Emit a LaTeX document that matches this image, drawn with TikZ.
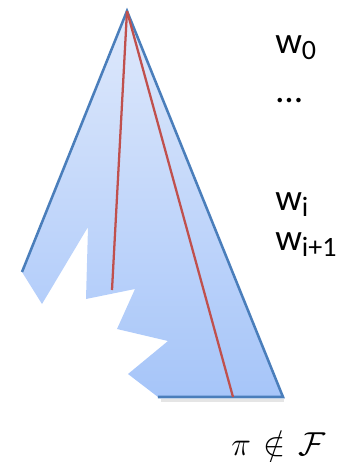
\documentclass[tikz,border=0pt]{standalone}
\usepackage{amsmath,amssymb}
\usepackage{fontspec}
\setmainfont{Carlito}
\definecolor{edgeblue}{HTML}{4A7EBB}
\definecolor{pathred}{HTML}{C0504D}
\definecolor{filltop}{HTML}{DFE9FB}
\definecolor{fillbot}{HTML}{A6C5F9}

\tikzset{
  wlabel/.style={anchor=base west, inner sep=0pt, font=\fontsize{28}{28}\selectfont},
  treeedge/.style={edgeblue, line width=1.9pt},
  branch/.style={pathred, line width=1.7pt}
}
\newcommand{\wsub}[1]{\raisebox{-4.8pt}{\fontsize{21}{21}\selectfont #1}}

\begin{document}
\begin{tikzpicture}[x=0.75pt,y=-0.75pt]
  \useasboundingbox (0,0) rectangle (339,462);
  \coordinate (apex) at (127,11);
  \coordinate (lcorner) at (22,272);
  \coordinate (rcorner) at (283,397);
  \coordinate (bcorner) at (158,397);
  % shadow under the bottom edge
  \draw [black!10, line width=2pt] (161,400.5) -- (284,400.5);
  % the cut tree
  \shade [top color=filltop, bottom color=fillbot]
     (apex) -- (rcorner) -- (bcorner) -- (128,374) -- (168,341) -- (117,329)
     -- (135,289) -- (86,299) -- (88,227) -- (42,304) -- (lcorner) -- cycle;
  \draw [treeedge] (lcorner) -- (apex) -- (rcorner) -- (bcorner);
  % two branches
  \coordinate (leafa) at (112,290);
  \coordinate (leafb) at (233,397);
  \draw [branch] (apex) -- (leafa);
  \draw [branch] (apex) -- (leafb);
  \node [wlabel] (w0) at (275,53) {w\wsub{0}};
  \node [wlabel] (dots) at (276,102) {\dots};
  \node [wlabel] (wi) at (275,210) {w\wsub{i}};
  \node [wlabel] (wii) at (275,250) {w\wsub{i+1}};
  \node [anchor=base west, inner sep=0pt, font=\fontsize{28}{28}\selectfont] (pi) at (231,455)
     {$\pi\mkern2mu\notin\mkern2mu\mathcal{F}$};
\end{tikzpicture}
\end{document}
